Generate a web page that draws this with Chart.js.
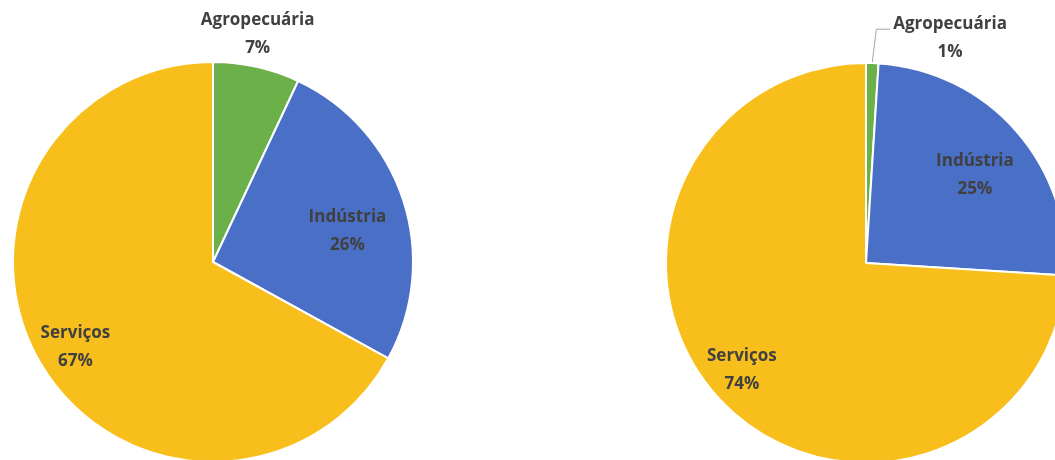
<!DOCTYPE html>
<html><head><meta charset="utf-8">
<script src="https://cdn.jsdelivr.net/npm/chart.js@4.4.0/dist/chart.umd.min.js"></script>
<style>
html,body{margin:0;padding:0;background:#fff;overflow:hidden;width:1055px;height:460px;}
#wrap{position:relative;width:1055px;height:460px;overflow:hidden;background:#fff;}
canvas{position:absolute;top:0;}
</style></head><body>
<div id="wrap">
<canvas id="c1" width="426" height="524" style="left:0px"></canvas>
<canvas id="c2" width="426" height="526" style="left:653px"></canvas>
</div>
<script>
const categories = ['Agropecuária', 'Indústria', 'Serviços'];
const valuesLeft = [7, 26, 67];
const valuesRight = [1, 25, 74];
const sliceColors = ['#6cb04a', '#4a6fc6', '#f7be1c'];

const labelPlugin = {
  id: 'sliceLabels',
  afterDatasetsDraw(chart, args, opts) {
    const ctx = chart.ctx;
    const meta = chart.getDatasetMeta(0);
    const data = chart.data.datasets[0].data;
    ctx.save();
    ctx.font = opts.font;
    ctx.fillStyle = opts.color;
    ctx.textAlign = 'center';
    ctx.textBaseline = 'middle';
    meta.data.forEach((arc, i) => {
      const p = arc.getProps(['x', 'y', 'startAngle', 'endAngle', 'outerRadius'], true);
      const mid = (p.startAngle + p.endAngle) / 2;
      const pl = opts.placements[i];
      const ang = mid + (pl.shift || 0) * Math.PI / 180;
      const d = pl.outside ? p.outerRadius + pl.dist : p.outerRadius * pl.f;
      const cx = p.x + Math.cos(ang) * d;
      const cy = p.y + Math.sin(ang) * d;
      const l1 = chart.data.labels[i];
      const l2 = data[i] + '%';
      ctx.fillText(l1, cx, cy - opts.gap / 2);
      ctx.fillText(l2, cx, cy + opts.gap / 2);
      if (pl.leader) {
        const w = ctx.measureText(l1).width;
        const left = cx - w / 2 - 3;
        const ly = cy - opts.gap / 2 + 5;
        const sx = p.x + Math.cos(mid) * (p.outerRadius + 1);
        const sy = p.y + Math.sin(mid) * (p.outerRadius + 1);
        ctx.beginPath();
        ctx.strokeStyle = '#a6a6a6';
        ctx.lineWidth = 1;
        ctx.moveTo(sx, sy);
        ctx.lineTo(sx + 4, ly);
        ctx.lineTo(left, ly);
        ctx.stroke();
      }
    });
    ctx.restore();
  }
};

function makePie(id, values, placements) {
  return new Chart(document.getElementById(id), {
    type: 'pie',
    data: {
      labels: categories,
      datasets: [{
        data: values,
        backgroundColor: sliceColors,
        borderColor: '#ffffff',
        borderWidth: 2,
        radius: 200,
        hoverOffset: 0
      }]
    },
    options: {
      responsive: false,
      animation: false,
      layout: { padding: 0 },
      plugins: {
        legend: { display: false },
        tooltip: { enabled: false },
        sliceLabels: {
          font: 'bold 17px "Open Sans"',
          color: '#404040',
          gap: 28,
          placements: placements
        }
      }
    },
    plugins: [labelPlugin]
  });
}

makePie('c1', valuesLeft, [
  { outside: true, dist: 32, shift: -1.5 },
  { f: 0.69, shift: 5 },
  { f: 0.81, shift: -1.3 }
]);
makePie('c2', valuesRight, [
  { outside: true, dist: 40, shift: 18.7, leader: true },
  { f: 0.7, shift: 2.5 },
  { f: 0.82, shift: 2.4 }
]);
</script>
</body></html>
